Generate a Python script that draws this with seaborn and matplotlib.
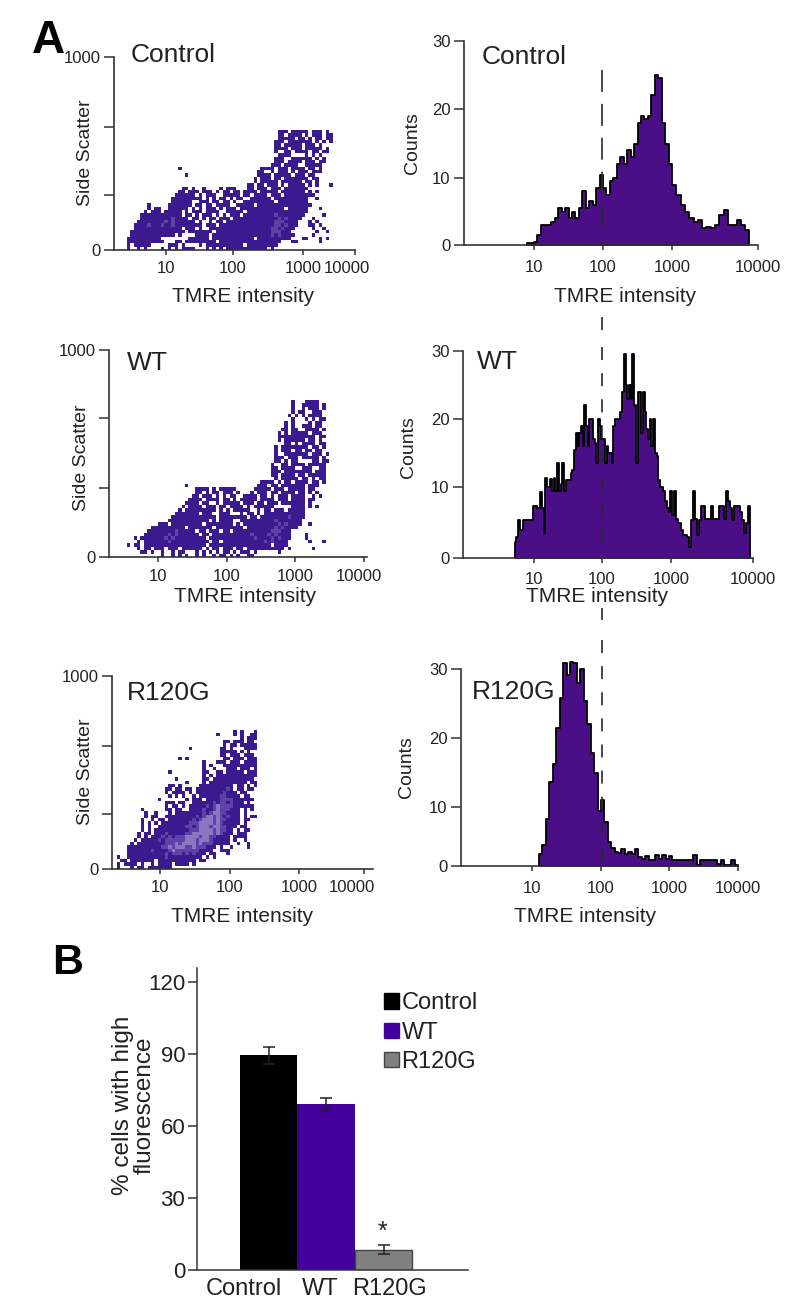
import numpy as np
import pandas as pd
import matplotlib
matplotlib.use("Agg")
import matplotlib.pyplot as plt
from matplotlib.colors import ListedColormap
from matplotlib.lines import Line2D
from matplotlib.patches import Patch
from matplotlib.transforms import ScaledTranslation
import seaborn as sns

# ---------------------------------------------------------------- data
# density maps: '.' empty, '#' low, '+' mid, '*' high
scatter_control = """
.......... .......... .......... .......... ....###.## ###.###.#.
.......... .......... .......... .......... ....##.### #.#.###.##
.......... .......... .......... .......... ....#####. ##.#.##.##
.......... .......... .......... .......... ...###.### ####.#.#.#
.......... .......... .......... .......... ...##.#### #.###.#...
.......... .......... .......... .......... ...####.## #.#####.#.
.......... .......... .......... .......... ...#..##.# ###.##.##.
.......... .......... .......... .......... ....####.. ..#.#.#...
.......... .......... .......... .......... ...###..## ####.#.#..
.......... .......... .......... .......... ...###.### #.###.##..
.......... .......... .......... .......... ..###.#### ..#####...
.......... .....#.... .......... .........# ###.###.## ##.##.#...
.......... .......... .......... ........## ..#.###.#. ###.###...
.......... .......#.. .......... ........## ##.#####.# ##.##.....
.......... .......... .......... .......#.# ##.##.#### ###.##....
.......... .......... .......... .......#.# ####.##### #.##.#....
.......... .......... .......... .....##.## .###.#.### ##.#.#...#
.......... ......##.# ..#....#.# ##...##.## #.###.#### ###.......
.......... .....##.## #.###.#.## .##.####.# ####.##### ##.#.#....
.......... ....###### .#.###..## ###.##.### #.###.#### #####.....
.......... ...####### ##.#.#.##. #.##..#### ##.####### ###..#....
.......... ...######. .###.##.## .#..###### ###.###### ###.......
......#... ..#######. ##.##.#### ..#####.## ########## ####......
......#.## ..######.# .#.###.#.# ##.####### ######.### ###...#...
.....#.### .#####.#.# ##.####..# ####.##### ########## ###.......
....###### ######.##. #.###.#.#. ###.###### ###+###### ##.....#..
....###### ###+####.# #.#.##.### .######### ####+#+### #...#.....
...####### #+#+###### .#..#.##.# ########## ###+++#### ...#.#....
..####+### +##+###### ##.###.### ########## ###++#+### ...##.#...
..######## ######.### .#..###### ########## ##++#+###. ....#..#..
.######### #######.## #####.#### ########## ##+++###.. .....#..#.
.######### ####.#.... ####.##### ########## ##+#+####. ....#.....
########## ........## ####.##### #######.## ########.. .##...#.#.
########## #...##.### ######.### ########## #####...## ......#...
#.#####... ..###.#... .#.####### ####.##### ####...... ..........
#..#.#.... #.#.#.#### ...#.#.#.# ########## #.#....... ..........
"""

scatter_wt = """
.......... .......... .......... .......... ........#. ..####....
.......... .......... .......... .......... ........#. .#####.#..
.......... .......... .......... .......... ........#. .#.###.#..
.......... .......... .......... .......... ........#. ##..###...
.......... .......... .......... .......... .......#.# .#.####...
.......... .......... .......... .......... ........#. ..#.#.##..
.......... .......... .......... .......... ......#.#. ...#.##...
.......... .......... .......... .......... ......#.#. .###.##...
.......... .......... .......... .......... .....##.## ..####.#..
.......... .......... .......... .......... ....#.#.## ###.###...
.......... .......... .......... .......... ....###### #####.##..
.......... .......... .......... .......... ....#.#### ##.##.#...
.......... .......... .......... .......... ......##.# .####.##..
.......... .......... .......... .......... ...#.##### ###.##.#..
.......... .......... .......... .......... ...#.###.# #.##.##...
.......... .......... .......... .......... ...#..#### ###.###.#.
.......... .......... .......... .......... ...###.### .#####.#..
.......... .......... .......... .......... ...##.#.## ....##.##.
.......... .......... .......... .......... ..#..##.## ##.#####..
.......... .......... .......... .......... ..##.####. .###..##..
.......... .......... .......... .......... ..###.#### ####.###..
.......... .......... .......... .......... ..##.####. ##.#####..
.......... .......... .......... .......... ...#.##### .##.#.##..
.......... .......... .......... .........# ###.#.##.# ###.##.#..
.......... .......#.. .......... ........## #.##.##### ##.###....
.......... .......... ####.#.### ##.....### ##.###.### ##.##.....
.......... .......... ##.#.##.## #.#...#.## #.##.####. ##.#.#....
.......... .........# #.###.#.#. ##..####.# #.#.###.## ##..#.#...
.......... ........## ##.####.## .#.#####.# ###.###.## ##.##.....
.......... .......### #.##..#.## ###.###.## .###.##### ##.#......
.......... ......#.## ##.###.##. ####.#.### ###.....## ##.#.#....
.......... .....#.### ######.#.# .#####..#. ##.###.### ##........
.......... ....###### #.###..### ...#.##.#. ########## ##........
.......... ...####### ######.### #####.##.# #######+## ##........
.......... ..######## ####.#.### #..####### ###+###### #.........
.........# ##.####### ##.####### #.#.###### ####+#+### #..#......
.......### #######.## #####.#### ####.##### ###+#+#### ..........
......#### ####+##### .##.###.## .######### ##+++###.. ..........
.....##### ##+#+##### #.##.##### ######+### #+#+####.. ..#.......
..#.###### #+#+###### ###.###### #######+## ##+#+###.. ..#.......
...#.##### ##+####### ####.##.## ########## +#+####... ...#...#..
#.##.##### ########## ###.###### ########## ##.####... ..........
...#.##.## #.###.#### ##.#.##.## #.##.##### ######.#.. ....#.....
....##.#.. #..#.##... #.#.#.#.## .#.###.#.. ....#..... ..........
.......... #..#.#.#.. #.#..#.##. #.#..##... .......... ..........
"""

scatter_r120g = """
.......... .......... .......... ....#.#... #
.......... .......... .........# ....#.#..# #
.......... .......... .......... ......#.## #
.......... .......... .......... .##.###.## .
.......... .......... .......... .#.##.#### #
.......... .......... .#........ ##.#...### #
.......... .......... .......... #####.#.#. .
.......... .......... .......... ##.###.### .
.......... ........#. #......... .##.###.## #
.......... .......... .....#...# ##.###.### #
.......... .......... .....#.#.. .######### #
.......... .......... .....#..#. ..###.###. #
.......... .....#.... .....##..# #.#####.## #
.......... .......... .....#.#.# ########## #
.......... .......#.. .....##.## ########## .
.......... .......... #....#.### ########.# #
.......... .....##.#. ....###### ####.##.#. #
.......... ....##.##. ##.####### ##+#.##.## .
.......... ....#.#### .#.####### #+###.##.. .
.......... .....#.#.# ..#.###### ++####.##. .
.......... ..#....... #.###.#### ++++###### .
.......... ....###.## ..######+# ++#+###.#. .
.......... ....#.##.# .#####+#+* ++++###### .
.......#.. ....##.##. .####+##+* +++###.#.# .
........#. .#...#.### #####+#+** ++####.#.. .
........#. ##..###### ###+#+**+* +#+###.#.# #
.......#.. #.##.##### ##+#+***+* ++####.##. .
.......#.# .#.####### #+++****+* +#####.#.. .
.......#.# ..######## ++#+***+** ++###.##.. .
.......#.# .######### #+++****+* ++##.#.##. .
......#.## .###+##### ++******+* +###.###.. .
......#.#. ###+#+#+++ ****+**++# ###.####.. .
.....#.### ##+#++++++ ***+***+## ###.#..#.. .
....#.#### ####+++*+* ***+*+++## ###..#..#. .
...####### ###++*+*** ++*+++###. #..#....#. .
...####### +####+*+++ ++++####.. ###....... .
...####### ####+#+++# +#+###.##. ..#....... .
#..####### ####+##### #####.#.#. .......... .
.##.###### #.######## ###.##.... .......... .
#.####.#.. #.####.### #.#....... .......... .
#...#.##.# ######.... .......... .......... .
"""

# histogram counts per channel
counts_control = [0.3, 0.3, 0.4, 1.5, 3, 3, 3, 3.5, 4, 5.5, 5, 5.5, 4, 5, 4, 5.5, 8, 5.5, 6.5, 6,
                  8.5, 10.5, 8.5, 7.5, 9.5, 10, 12, 13, 12, 14, 13, 15, 18, 19, 18.5, 19, 22, 25,
                  24.5, 18, 15, 12, 9, 7.5, 6, 5, 4, 3.5, 3.7, 2.5, 2.7, 2.5, 3, 4.5, 5.2, 3, 3,
                  3.8, 3, 2.2]
counts_wt = [2.3, 3, 5.3, 4, 4, 5.3, 5.3, 5.3, 5.3, 5.3, 5.3, 7.3, 7.3, 7, 7, 9.3, 7, 3.5, 11.3,
             10, 10, 11.2, 9.5, 11.3, 9.5, 13.5, 9.5, 10.5, 13.5, 9.5, 11, 11, 11, 12, 12.5, 15.5,
             18, 16, 18, 19, 16, 22, 19, 16, 20, 20, 17, 16.5, 13.5, 20, 19, 17, 17, 13.5, 16,
             15, 15, 13.5, 19, 20, 20, 20, 21, 24, 29.5, 25, 23, 25, 23, 29.5, 22, 13.5, 24, 24,
             18, 24, 21, 18.5, 17, 20, 16, 20, 15, 14.5, 11, 10, 10, 9.5, 8, 7, 6.5, 9.5, 6, 9.5,
             5.5, 5, 4, 3.3, 3.3, 3, 1.5, 5.3, 9.5, 5.5, 3.2, 5.3, 7.3, 7.3, 5.5, 5.5, 5.5, 7.3,
             5.5, 5.5, 5.5, 7.3, 7.3, 5.5, 9.5, 8, 7, 5.3, 7.3, 7.3, 7.3, 6.5, 5.3, 3.5, 5, 7.3]
counts_r120g = [2, 3.5, 8, 13.6, 16.2, 21.4, 25.8, 30.9, 29.2, 31, 30.9, 28, 30, 25.3, 22, 17.8,
                14.9, 9.4, 11, 7.5, 4, 3, 2.4, 2.2, 2.8, 2, 2.3, 2, 2.8, 1.5, 1.2, 1.7, 1, 1.1,
                1.8, 1.2, 1.8, 1.2, 1.7, 1, 1, 1, 1, 1, 1, 1.9, 0.2, 1, 1, 1, 1, 1, 0.3, 1, 0.2,
                0.2, 1, 0.2]

conditions = ["Control", "WT", "R120G"]
percent_high = [89.5, 69, 8.5]
percent_err = [3.5, 2.8, 1.8]
x_tick_values = [10, 100, 1000, 10000]
x_tick_labels = ["10", "100", "1000", "10000"]
count_ticks = [0, 10, 20, 30]
percent_ticks = [0, 30, 60, 90, 120]

# ---------------------------------------------------------------- style
W, H = 800, 1315
sns.set_theme(style="ticks")
plt.rcParams["font.family"] = ["Liberation Sans", "DejaVu Sans"]
plt.rcParams["lines.scale_dashes"] = False
INK, AXIS = "#222222", "#333333"
FILL = "#4A0E86"
cmap = ListedColormap(["#3B1A8F", "#5D42A8", "#8B76C3"])

fig = plt.figure(figsize=(W / 100, H / 100), dpi=100, facecolor="white")


def fx(x):
    return x / W


def fy(y):
    return 1 - y / H


def make_axes(left, right, top, bottom):
    ax = fig.add_axes([fx(left), fy(bottom), (right - left) / W, (bottom - top) / H])
    ax.set_facecolor("none")
    ax.patch.set_visible(False)
    return ax


def x_maps(px):
    """Log axis following the picture's hand-placed decades (10, 100, 1000, 10000 at px)."""
    step = px[1] - px[0]
    lg = [-3, 1, 2, 3, 4, 8]
    pp = [px[0] - 4 * step, *px, px[3] + 4 * step]
    fwd = lambda v: np.interp(np.log10(np.clip(v, 1e-9, None)), lg, pp)
    inv = lambda p: 10 ** np.interp(p, pp, lg)
    return fwd, inv


def warp_x(ax, px, left, right):
    fwd, inv = x_maps(px)
    ax.set_xscale("function", functions=(fwd, inv))
    ax.set_xlim(inv(left), inv(right))


def warp_y(ax, values, px, bottom, top):
    """Count axis following the picture's tick positions."""
    step = px[1] - px[2]
    vv = [-100, *values, 200]
    pp = [-(px[0] + 100 * step / 10), *[-p for p in px], -(px[-1] - 170 * step / 10)]
    fwd = lambda v: np.interp(v, vv, pp)
    inv = lambda p: np.interp(p, pp, vv)
    ax.set_yscale("function", functions=(fwd, inv))
    ax.set_ylim(inv(-bottom), inv(-top))


def dress(ax, ylen, pad, fs, ticky, tickly, xl, yl, xlabel, ylabel, label_shift=0.0):
    for s in ("top", "right"):
        ax.spines[s].set_visible(False)
    for s in ("left", "bottom"):
        ax.spines[s].set_color(AXIS)
        ax.spines[s].set_linewidth(1.2)
    ax.set_xticks(x_tick_values, x_tick_labels)
    ax.set_yticks(ticky, tickly)
    ax.tick_params(axis="x", length=3.6, width=1.1, color=AXIS, pad=pad, labelsize=fs, labelcolor=INK)
    ax.tick_params(axis="y", length=ylen, width=1.1, color=AXIS, pad=2.5, labelsize=fs, labelcolor=INK)
    ax.set_xlabel(xlabel, fontsize=15, color=INK, va="center", ha="center")
    ax.set_ylabel(ylabel, fontsize=14, color=INK, va="center", ha="center")
    ax.xaxis.set_label_coords(fx(xl[0]), fy(xl[1]), transform=fig.transFigure)
    ax.yaxis.set_label_coords(fx(yl[0]), fy(yl[1]), transform=fig.transFigure)
    if label_shift:
        lab = ax.get_xticklabels()[-1]
        lab.set_transform(lab.get_transform() + ScaledTranslation(label_shift / 100, 0, fig.dpi_scale_trans))
    ax.grid(False)


def name(x, y, s, size=19, **kw):
    fig.text(fx(x), fy(y), s, fontsize=size, color=INK, va="center", ha="left", **kw)


# ---------------------------------------------------------------- scatter panels
def scatter_panel(grid, px, left, right, top, bottom, col0, cell_w, cell_h, yticks,
                  pad, xl, yl, shift, title, tx, ty):
    ax = make_axes(left, right, top, bottom)
    _, inv = x_maps(px)
    rows = [r.replace(" ", "") for r in grid.strip().splitlines()]
    n_r, n_c = len(rows), max(len(r) for r in rows)
    x_edges = inv(col0 + cell_w * np.arange(n_c + 1))
    h_val = cell_h / (bottom - top) * 1000
    y_edges = np.arange(n_r + 1) * h_val
    level = {"#": 1, "+": 2, "*": 3}
    recs = []
    for i, row in enumerate(rows):
        for j, ch in enumerate(row):
            if ch in level:
                recs.append((np.sqrt(x_edges[j] * x_edges[j + 1]),
                             (n_r - 1 - i + 0.5) * h_val, level[ch]))
    df = pd.DataFrame(recs, columns=["x", "y", "w"])
    # seaborn works on the plain axis; the warped scale is applied to what it drew
    sns.histplot(df, x="x", y="y", weights="w", bins=(list(x_edges), list(y_edges)), cmap=cmap,
                 vmin=0.5, vmax=3.5, thresh=0, ax=ax)
    warp_x(ax, px, left, right)
    ax.set_ylim(0, 1000)
    dress(ax, 7.2, pad, 12, yticks, ["0", "", "", "1000"], xl, yl,
          "TMRE intensity", "Side Scatter", shift)
    name(tx, ty, title)


scatter_panel(scatter_control, [166, 233, 303, 355], 114, 355, 57, 250, 126.7, 3.43, 3.33,
              [0, 285, 637, 1000], 4.5, (243, 297), (85, 153), -8, "Control", 131, 55)
scatter_panel(scatter_wt, [158, 227, 295, 364], 109, 367, 350, 557, 126.7, 3.43, 3.5,
              [0, 333, 671, 1000], 5, (245, 597), (82, 458), -5, "WT", 127, 363)
scatter_panel(scatter_r120g, [160, 230, 299, 364], 112, 373, 676, 869, 116.7, 3.43, 3.4,
              [0, 285, 637, 1000], 4.5, (242, 916), (85, 772), -12, "R120G", 127, 693)


# ---------------------------------------------------------------- histogram panels
def hist_panel(counts, lg0, dlg, px, ypx, left, right, top, bottom, pad, xl, yl, title, tx, ty):
    ax = make_axes(left, right, top, bottom)
    edges = 10 ** (lg0 + dlg * np.arange(len(counts) + 1))
    centers = np.sqrt(edges[:-1] * edges[1:])
    sns.histplot(x=centers, weights=counts, bins=list(edges), element="step", fill=True,
                 color=FILL, alpha=1, edgecolor="black", linewidth=1.3, ax=ax)
    warp_x(ax, px, left, right)
    warp_y(ax, count_ticks, ypx, bottom, top)
    for c in ax.collections:
        c.set_clip_on(False)
    dress(ax, 7.2, pad, 12, count_ticks, [str(t) for t in count_ticks], xl, yl,
          "TMRE intensity", "Counts")
    name(tx, ty, title)
    return ax


hist_panel(counts_control, 0.9, 0.05, [534, 603, 672, 758], [245, 178, 109, 41], 464, 758, 41, 245,
           7, (625, 297), (413, 143), "Control", 482, 57)
hist_panel(counts_wt, 0.716, 0.025, [534, 602, 671, 753], [558, 487, 419, 351], 463, 753, 351, 558,
           6.5, (597, 597), (409, 447), "WT", 477, 362)
hist_panel(counts_r120g, 1.1, 0.05, [532, 601, 669, 738], [866, 807, 738, 669], 461, 738, 669, 866,
           7, (585, 916), (407, 767), "R120G", 472, 692)

# threshold line running through the three histograms
for y0, y1, dash in [(70, 245, (15.8, 8.6)), (317, 333, (9.4, 9.4)), (347, 557, (9.4, 9.4)),
                     (608, 620, (9.4, 9.4)), (640, 866, (9.4, 9.4))]:
    fig.add_artist(Line2D([fx(601.7)] * 2, [fy(y0), fy(y1)], transform=fig.transFigure,
                          color="#2a2a2a", lw=1.2, dashes=dash, dash_capstyle="butt"))

# ---------------------------------------------------------------- panel B
axb = make_axes(197, 468, 968, 1270)
palette = ["#000000", "#44009C", "#808080"]
sns.barplot(x=conditions, y=percent_high, hue=conditions, palette=palette, width=1.0,
            errorbar=None, legend=False, saturation=1, linewidth=0, ax=axb)
axb.patches[2].set_edgecolor("#444444")
axb.patches[2].set_linewidth(1)
axb.errorbar(range(3), percent_high, yerr=percent_err, fmt="none", ecolor=INK,
             elinewidth=1.1, capsize=4.3, capthick=1.1)
unit = 57.5
axb.set_xlim((197 - 268.5) / unit, (468 - 268.5) / unit)
axb.set_ylim(0, (1270 - 968) / (1270 - 982) * 120)
axb.set_xticks([(244 - 268.5) / unit, (320 - 268.5) / unit, (389 - 268.5) / unit], conditions)
axb.set_yticks(percent_ticks, [str(t) for t in percent_ticks])
axb.tick_params(axis="x", length=0, pad=6, labelsize=17, labelcolor=INK)
axb.tick_params(axis="y", length=6.5, width=1.1, color=AXIS, pad=2, labelsize=16, labelcolor=INK)
for s in ("top", "right"):
    axb.spines[s].set_visible(False)
for s in ("left", "bottom"):
    axb.spines[s].set_color(AXIS)
    axb.spines[s].set_linewidth(1.1)
axb.grid(False)
axb.set_ylabel("% cells with high\nfluorescence", fontsize=17.5, color=INK, ha="center", va="center",
               linespacing=0.95)
axb.yaxis.set_label_coords(fx(134), fy(1105), transform=fig.transFigure)
axb.text((382 - 268.5) / unit, percent_high[2] + 7.3, "*", fontsize=18, color=INK, ha="center", va="center")
handles = [Patch(facecolor=c, edgecolor="#444444" if c == palette[2] else c, label=l)
           for c, l in zip(palette, conditions)]
fig.legend(handles=handles, loc="upper left", bbox_to_anchor=(fx(375), fy(983)), frameon=False,
           fontsize=17, handlelength=0.62, handleheight=0.62, handletextpad=0.1, labelspacing=0.3,
           labelcolor=INK, borderaxespad=0, borderpad=0.4)

# panel letters
fig.text(fx(48), fy(41), "A", fontsize=33, fontweight="bold", color="black", ha="center", va="center")
fig.text(fx(68), fy(963), "B", fontsize=31, fontweight="bold", color="black", ha="center", va="center")

fig.savefig("out.png", dpi=100, facecolor="white")
